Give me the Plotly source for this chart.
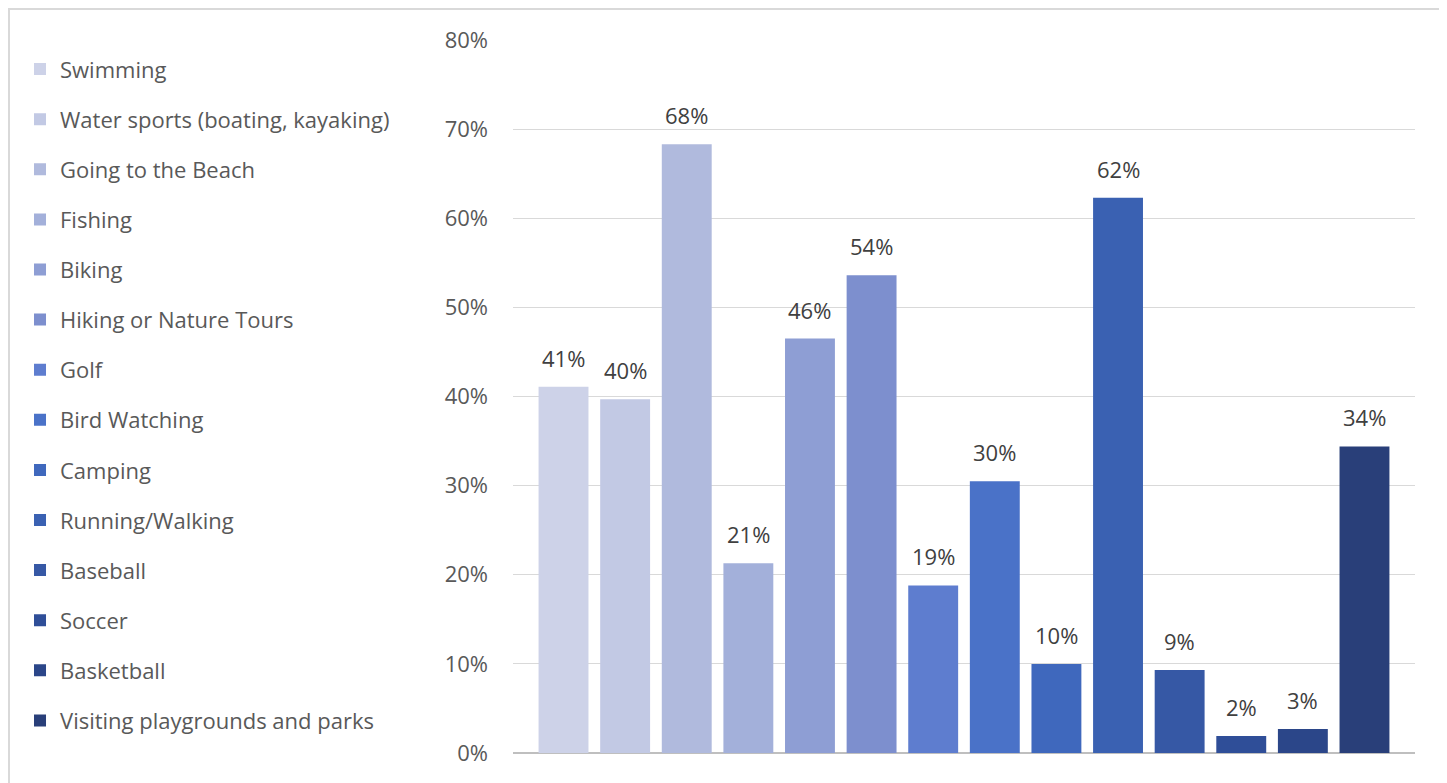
import plotly.graph_objects as go

activities = [
    "Swimming", "Water sports (boating, kayaking)", "Going to the Beach", "Fishing",
    "Biking", "Hiking or Nature Tours", "Golf", "Bird Watching", "Camping",
    "Running/Walking", "Baseball", "Soccer", "Basketball", "Visiting playgrounds and parks",
]
shares = [0.411, 0.397, 0.683, 0.213, 0.465, 0.536, 0.188, 0.305, 0.100,
          0.623, 0.093, 0.019, 0.027, 0.344]
colors = ["#CDD2E8", "#C2C9E4", "#B0BADD", "#A3B0DA", "#8E9ED4", "#7D8FCE",
          "#5E7DCF", "#4A72C8", "#3F68BD", "#3A61B2", "#3658A5", "#2F4E98",
          "#2B4689", "#293F79"]

FONT = "Open Sans"
fig = go.Figure()
for i, (name, v, c) in enumerate(zip(activities, shares, colors)):
    fig.add_trace(go.Bar(
        x=[name], y=[v], name=name, legendgroup=f"g{i}",
        marker=dict(color=c, line=dict(width=0)),
        hoverinfo="name+y",
    ))
    fig.add_annotation(
        x=name, y=v, text=f"{v:.0%}", showarrow=False,
        yanchor="middle", yshift=29,
        font=dict(family=FONT, size=22, color="#404040"),
    )

fig.update_layout(
    width=1447, height=783,
    paper_bgcolor="white", plot_bgcolor="white",
    margin=dict(l=505, r=40, t=32, b=38),
    barmode="overlay", bargap=0.19,
    showlegend=True,
    legend=dict(
        xref="container", yref="container", x=0.0083, y=0.9485,
        xanchor="left", yanchor="top",
        font=dict(family=FONT, size=22, color="#595959"),
        tracegroupgap=18.5, traceorder="grouped",
        maxheight=770,
        itemclick=False,
    ),
    xaxis=dict(
        categoryorder="array", categoryarray=activities,
        range=[-0.82, 13.82], showticklabels=False, showgrid=False,
        zeroline=False, showline=False, ticks="",
    ),
    yaxis=dict(
        range=[0, 0.8], tickvals=[0, 0.1, 0.2, 0.3, 0.4, 0.5, 0.6, 0.7, 0.8],
        tickformat=".0%", showgrid=True, gridcolor="#D9D9D9", gridwidth=1,
        zeroline=True, zerolinecolor="#BFBFBF", zerolinewidth=1.5,
        showline=False, ticks="", ticklabelstandoff=24,
        tickfont=dict(family=FONT, size=22, color="#595959"),
    ),
    font=dict(family=FONT),
    shapes=[dict(
        type="rect", xref="paper", yref="paper",
        x0=(1 - 505) / 902, x1=(1437 - 505) / 902,
        y0=-0.2, y1=1 + 31 / 713,
        line=dict(color="#D9D9D9", width=2), fillcolor="rgba(0,0,0,0)",
        layer="below",
    )],
)

fig.write_html("out.html")
